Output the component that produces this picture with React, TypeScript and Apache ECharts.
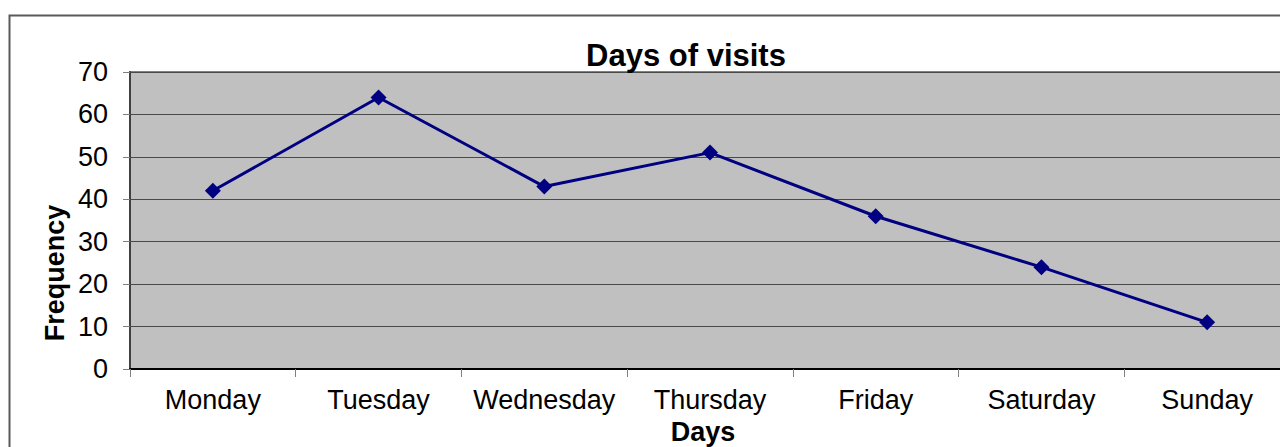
import React, { useEffect, useRef } from "react";
import * as echarts from "echarts";

const categories = ["Monday", "Tuesday", "Wednesday", "Thursday", "Friday", "Saturday", "Sunday"];
const frequency = [42, 64, 43, 51, 36, 24, 11];
const chartTitle = "Days of visits";
const xAxisName = "Days";
const yAxisName = "Frequency";

export default function App() {
  const ref = useRef<HTMLDivElement>(null);
  useEffect(() => {
    if (!ref.current) return;
    const chart = echarts.init(ref.current, null, { renderer: "svg" });
    const font = "'Liberation Sans', Arial, Helvetica, sans-serif";
    chart.setOption({
      animation: false,
      backgroundColor: "#ffffff",
      textStyle: { fontFamily: font },
      title: {
        text: chartTitle,
        left: 681,
        top: 35,
        textAlign: "center",
        textStyle: { fontFamily: font, fontSize: 31, fontWeight: "bold", color: "#000" },
      },
      graphic: [
        {
          type: "rect",
          shape: { x: 9.5, y: 15.5, width: 1400, height: 600 },
          style: { fill: "none", stroke: "#5a5a5a", lineWidth: 2 },
          z: 100,
        },
        {
          type: "text",
          x: 703,
          y: 432,
          style: {
            text: xAxisName,
            font: "bold 27px " + font,
            fill: "#000",
            align: "center",
            verticalAlign: "middle",
          },
        },
        {
          type: "text",
          x: 55,
          y: 273,
          rotation: Math.PI / 2,
          style: {
            text: yAxisName,
            font: "bold 27px " + font,
            fill: "#000",
            align: "center",
            verticalAlign: "middle",
          },
        },
      ],
      grid: {
        left: 130,
        top: 72,
        width: 1160,
        height: 297,
        outerBoundsMode: "none",
        containLabel: false,
        show: true,
        backgroundColor: "#c0c0c0",
        borderColor: "#808080",
        borderWidth: 2,
      },
      xAxis: {
        type: "category",
        data: categories,
        boundaryGap: true,
        axisLine: { show: true, lineStyle: { color: "#000", width: 2 } },
        axisTick: { show: true, interval: 0, length: 8, inside: false, lineStyle: { color: "#808080", width: 1 } },
        axisLabel: { interval: 0, fontFamily: font, fontSize: 27, color: "#000", margin: 17 },
        splitLine: { show: false },
      },
      yAxis: {
        type: "value",
        min: 0,
        max: 70,
        interval: 10,
        axisLine: { show: true, lineStyle: { color: "#404040", width: 2 } },
        axisTick: { show: true, length: 7, lineStyle: { color: "#808080", width: 1 } },
        axisLabel: { fontFamily: font, fontSize: 27, color: "#000", margin: 22 },
        splitLine: { show: true, lineStyle: { color: "#4a4a4a", width: 1 } },
      },
      series: [
        {
          type: "line",
          data: frequency,
          symbol: "diamond",
          symbolSize: 16,
          itemStyle: { color: "#000080" },
          lineStyle: { color: "#000080", width: 3 },
        },
      ],
    });
    return () => chart.dispose();
  }, []);
  return (
    <div
      ref={ref}
      style={{ position: "fixed", left: 0, top: 0, width: 1280, height: 447 }}
    />
  );
}
